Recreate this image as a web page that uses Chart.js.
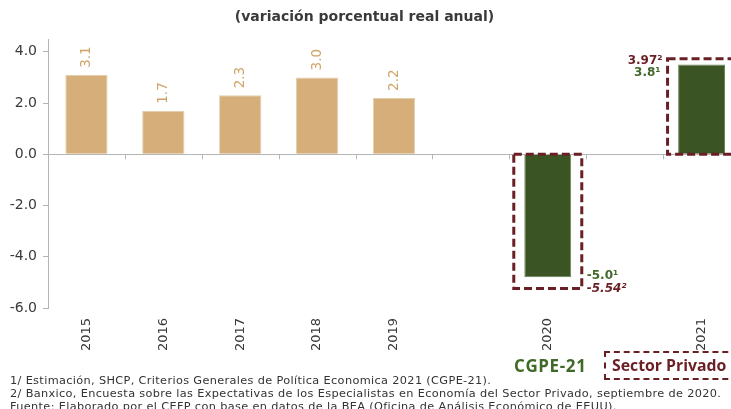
<!DOCTYPE html>
<html>
<head>
<meta charset="utf-8">
<script src="https://cdn.jsdelivr.net/npm/chart.js@4"></script>
<style>
  html, body { margin: 0; padding: 0; width: 731px; height: 409px; overflow: hidden; background: #fff; }
  #wrap { position: relative; width: 731px; height: 409px; overflow: hidden; }
  canvas { position: absolute; left: 0; top: 0; }
  .txt { position: absolute; white-space: nowrap; font-family: "DejaVu Sans", sans-serif; }
  #title { left: 0; width: 729px; top: 8px; text-align: center; font-size: 14px; font-weight: bold; color: #3a3a3a; }
  .note { left: 10px; font-size: 11.3px; color: #333; letter-spacing: 0.35px; }
  #cgpe { left: 514px; top: 354px; font-size: 17px; font-weight: bold; color: #3f6a27; font-family: "Open Sans", sans-serif; letter-spacing: 0.6px; }
  #priv { left: 604px; top: 351px; width: 140px; height: 25px; border: 2.5px dashed #6a1f25; }
  #privTxt { left: 612px; top: 354px; font-size: 15.8px; font-weight: bold; color: #6a1f25; font-family: "Open Sans", sans-serif; }
</style>
</head>
<body>
<div id="wrap">
  <canvas id="GrowthChart" width="745" height="409"></canvas>
  <div class="txt" id="title">(variación porcentual real anual)</div>
  <div class="txt" id="cgpe">CGPE-21</div>
  <div class="txt" id="priv"></div>
  <div class="txt" id="privTxt">Sector Privado</div>
  <div class="txt note" style="top:374px">1/ Estimación, SHCP, Criterios Generales de Política Economica 2021 (CGPE-21).</div>
  <div class="txt note" style="top:387px">2/ Banxico, Encuesta sobre las Expectativas de los Especialistas en Economía del Sector Privado, septiembre de 2020.</div>
  <div class="txt note" style="top:400px">Fuente: Elaborado por el CEFP con base en datos de la BEA (Oficina de Análisis Económico de EEUU).</div>
</div>
<script>
// years on the x axis (empty slots leave the gaps before 2020 and 2021)
const years = ['2015', '2016', '2017', '2018', '2019', '', '2020', '', '2021'];
// observed growth
const observed = [3.1, 1.7, 2.3, 3.0, 2.2, null, null, null, null];
// estimates (bar height as drawn)
const estimates = [null, null, null, null, null, null, -4.8, null, 3.5];
// labels next to the estimate bars
const cgpeLabels = ['', '', '', '', '', '', '-5.0¹', '', '3.8¹'];
const privLabels = ['', '', '', '', '', '', '-5.54²', '', '3.97²'];
// dashed boxes for the private sector survey
const boxLow = [null, null, null, null, null, null, -5.24, null, 0];
const boxHigh = [null, null, null, null, null, null, 0, null, 3.73];

const TAN = '#d5ae7a';
const GREEN = '#3a5423';
const GREEN_TXT = '#44692b';
const MAROON = '#6a1f25';

// draws value labels, dashed boxes and little x tick marks
const extras = {
    id: 'extras',
    afterDatasetsDraw(chart) {
        const ctx = chart.ctx;
        const xs = chart.scales.x;
        const ys = chart.scales.y;
        const y0 = ys.getPixelForValue(0);

        // tick marks between categories on the zero line
        ctx.save();
        ctx.strokeStyle = '#b5b5b5';
        ctx.lineWidth = 1;
        for (let i = 1; i < years.length; i++) {
            const x = Math.round((xs.getPixelForValue(i - 1) + xs.getPixelForValue(i)) / 2) + 0.5;
            ctx.beginPath();
            ctx.moveTo(x, y0);
            ctx.lineTo(x, y0 + 5);
            ctx.stroke();
        }
        ctx.restore();

        // rotated labels above observed bars
        const tanBars = chart.getDatasetMeta(0).data;
        ctx.save();
        ctx.fillStyle = '#cfa468';
        ctx.font = '13.5px "DejaVu Sans"';
        ctx.textAlign = 'left';
        ctx.textBaseline = 'middle';
        tanBars.forEach((bar, i) => {
            if (observed[i] === null) return;
            ctx.save();
            ctx.translate(bar.x, bar.y - 7);
            ctx.rotate(-Math.PI / 2);
            ctx.fillText(observed[i].toFixed(1), 0, 0);
            ctx.restore();
        });
        ctx.restore();

        // dashed boxes + estimate labels
        const greenBars = chart.getDatasetMeta(1).data;
        greenBars.forEach((bar, i) => {
            if (estimates[i] === null) return;
            const cx = bar.x;
            const half = 34;
            const top = ys.getPixelForValue(boxHigh[i]);
            const bottom = ys.getPixelForValue(boxLow[i]);
            ctx.save();
            ctx.strokeStyle = MAROON;
            ctx.lineWidth = 3;
            ctx.setLineDash([8, 4]);
            ctx.strokeRect(cx - half, top, half * 2, bottom - top);
            ctx.restore();

            ctx.save();
            ctx.font = 'bold 12px "DejaVu Sans"';
            ctx.textBaseline = 'middle';
            if (estimates[i] < 0) {
                ctx.textAlign = 'left';
                const lx = cx + half + 5;
                ctx.fillStyle = GREEN_TXT;
                ctx.fillText(cgpeLabels[i], lx, bar.y - 1);
                ctx.fillStyle = MAROON;
                ctx.font = 'italic bold 12px "DejaVu Sans"';
                ctx.fillText(privLabels[i], lx, bottom);
            } else {
                ctx.textAlign = 'right';
                const rx = cx - half - 5;
                ctx.fillStyle = MAROON;
                ctx.fillText(privLabels[i], rx, top + 2);
                ctx.fillStyle = GREEN_TXT;
                ctx.fillText(cgpeLabels[i], rx - 2, bar.y + 8);
            }
            ctx.restore();
        });
    }
};

const ctx = document.getElementById('GrowthChart').getContext('2d');
const GrowthChart = new Chart(ctx, {
    type: 'bar',
    data: {
        labels: years,
        datasets: [{
            data: observed,
            backgroundColor: TAN,
            borderColor: '#e6ceac',
            borderWidth: 1,
            barPercentage: 0.55,
            categoryPercentage: 1
        }, {
            data: estimates,
            backgroundColor: GREEN,
            borderColor: '#6d8457',
            borderWidth: 1,
            barPercentage: 0.61,
            categoryPercentage: 1
        }]
    },
    options: {
        responsive: false,
        animation: false,
        layout: { padding: { top: 39, right: 5, bottom: 51, left: 0 } },
        plugins: {
            legend: { display: false },
            tooltip: { enabled: false }
        },
        datasets: { bar: { grouped: false } },
        scales: {
            x: {
                grid: { display: false, drawTicks: false },
                border: { display: false },
                ticks: {
                    color: '#3a3a3a',
                    font: { family: 'DejaVu Sans', size: 13 },
                    minRotation: 90,
                    maxRotation: 90,
                    padding: 10,
                    autoSkip: false
                },
                afterFit(scale) { scale.height = 50; }
            },
            y: {
                min: -6,
                max: 4.5,
                afterBuildTicks(scale) {
                    scale.ticks = [-6, -4, -2, 0, 2, 4].map(v => ({ value: v }));
                },
                ticks: {
                    color: '#3a3a3a',
                    font: { family: 'DejaVu Sans', size: 14 },
                    padding: 6,
                    callback: v => v.toFixed(1)
                },
                grid: {
                    color: c => (c.tick && c.tick.value === 0 ? '#b5b5b5' : 'rgba(0,0,0,0)'),
                    tickColor: '#b5b5b5',
                    tickLength: 5
                },
                border: { color: '#b5b5b5', width: 1 },
                afterFit(scale) { scale.width = 48; }
            }
        }
    },
    plugins: [extras]
});
</script>
</body>
</html>
